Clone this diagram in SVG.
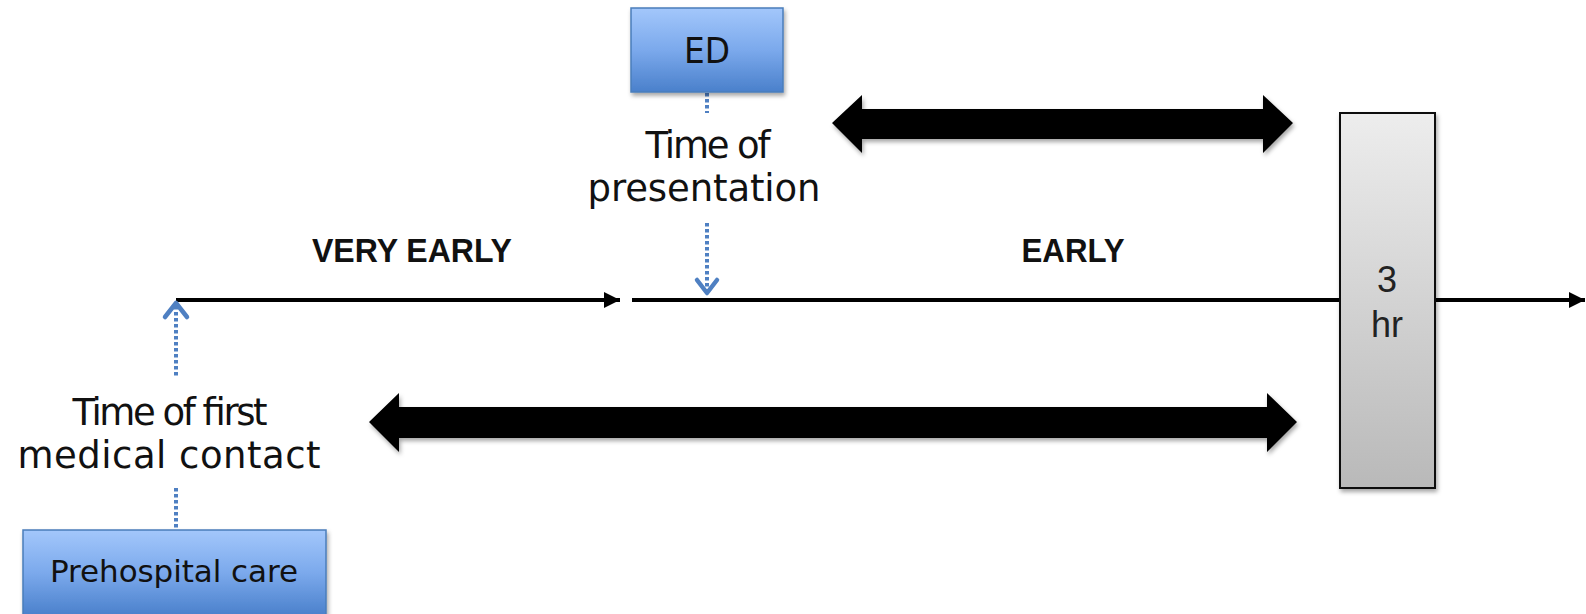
<svg xmlns="http://www.w3.org/2000/svg" width="1586" height="614" viewBox="0 0 1586 614">
  <defs>
    <linearGradient id="gBlue" x1="0" y1="0" x2="0" y2="1">
      <stop offset="0" stop-color="#a3c7fb"/>
      <stop offset="0.5" stop-color="#7ba9ec"/>
      <stop offset="1" stop-color="#4a80cb"/>
    </linearGradient>
    <linearGradient id="gGray" x1="0" y1="0" x2="0" y2="1">
      <stop offset="0" stop-color="#ededed"/>
      <stop offset="1" stop-color="#b9b9b9"/>
    </linearGradient>
    <filter id="shadow" x="-10%" y="-10%" width="130%" height="140%">
      <feDropShadow dx="1.5" dy="3" stdDeviation="2" flood-color="#000" flood-opacity="0.35"/>
    </filter>
    <marker id="tri" viewBox="0 0 10 10" refX="10" refY="5" markerWidth="4" markerHeight="4" markerUnits="strokeWidth" orient="auto">
      <path d="M0,0 L10,5 L0,10 Z" fill="#000"/>
    </marker>
  </defs>
  <style>
    .cg { font-family: "DejaVu Sans", "Liberation Sans", sans-serif; fill: #111; }
    .hd { font-family: "Liberation Sans", Arial, sans-serif; font-weight: bold; fill: #111; }
    .hv { font-family: "Liberation Sans", Arial, sans-serif; fill: #222; }
    .blue { fill: url(#gBlue); stroke: #4a7ebb; stroke-width: 1.5; filter: url(#shadow); }
    .dot { stroke: #4f80c2; stroke-width: 4; stroke-dasharray: 3.5 2.5; fill: none; }
    .chev { stroke: #4f80c2; stroke-width: 4.5; fill: none; stroke-linecap: round; stroke-linejoin: round; }
    .tl { stroke: #000; stroke-width: 4; fill: none; }
    .big { fill: #000; filter: url(#shadow); }
  </style>

  <g id="connectors">
    <line class="tl" x1="176" y1="300" x2="620" y2="300" marker-end="url(#tri)"/>
    <line class="tl" x1="632" y1="300" x2="1585" y2="300" marker-end="url(#tri)"/>
    <line class="dot" x1="707" y1="93" x2="707" y2="113"/>
    <line class="dot" x1="707" y1="223" x2="707" y2="291"/>
    <polyline class="chev" points="697,280 707,293 717,280"/>
    <line class="dot" x1="176" y1="306" x2="176" y2="377"/>
    <polyline class="chev" points="165,317 176,303 187,317"/>
    <line class="dot" x1="176" y1="488" x2="176" y2="530"/>
    <path class="big" d="M832,123 L862,95 L862,109 L1263,109 L1263,95 L1293,123 L1263,153 L1263,139 L862,139 L862,153 Z"/>
    <path class="big" d="M369,422 L399,393 L399,407 L1267,407 L1267,393 L1297,422 L1267,452 L1267,438 L399,438 L399,452 Z"/>
  </g>

  <g id="ed">
    <rect class="blue" x="631" y="8" width="152" height="84"/>
    <text class="cg" x="707" y="63" font-size="35" text-anchor="middle" textLength="46" lengthAdjust="spacingAndGlyphs">ED</text>
  </g>

  <g id="presentation">
    <text class="cg" x="708" y="158" font-size="37" text-anchor="middle" textLength="125">Time of</text>
    <text class="cg" x="704" y="201" font-size="37" text-anchor="middle" textLength="233">presentation</text>
  </g>

  <g id="first-contact">
    <text class="cg" x="170" y="425" font-size="37" text-anchor="middle" textLength="195">Time of first</text>
    <text class="cg" x="169" y="468" font-size="37" text-anchor="middle" textLength="303">medical contact</text>
  </g>

  <g id="prehospital">
    <rect class="blue" x="23" y="530" width="303" height="86"/>
    <text class="cg" x="174" y="582" font-size="31" text-anchor="middle" textLength="248">Prehospital care</text>
  </g>

  <g id="very-early">
    <text class="hd" x="412" y="262" font-size="34" text-anchor="middle" textLength="200" lengthAdjust="spacingAndGlyphs">VERY EARLY</text>
  </g>

  <g id="early">
    <text class="hd" x="1073" y="262" font-size="34" text-anchor="middle" textLength="103" lengthAdjust="spacingAndGlyphs">EARLY</text>
  </g>

  <g id="three-hr">
    <rect x="1340" y="113" width="95" height="375" fill="url(#gGray)" stroke="#111" stroke-width="2" filter="url(#shadow)"/>
    <text class="hv" x="1387" y="292" font-size="36" text-anchor="middle">3</text>
    <text class="hv" x="1387" y="337" font-size="36" text-anchor="middle">hr</text>
  </g>
</svg>
